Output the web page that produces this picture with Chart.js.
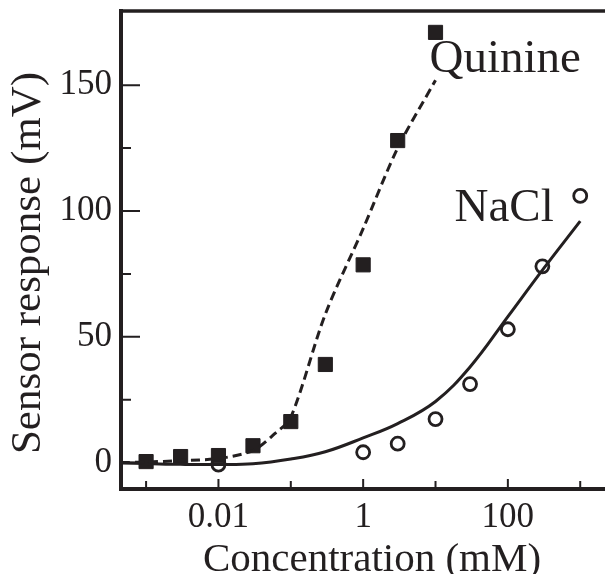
<!DOCTYPE html>
<html>
<head>
<meta charset="utf-8">
<script src="https://cdn.jsdelivr.net/npm/chart.js@4.4.1/dist/chart.umd.min.js"></script>
<style>
  html, body { margin: 0; padding: 0; background: #fff; overflow: hidden; }
  canvas { display: block; }
</style>
</head>
<body>
<canvas id="myChart" width="605" height="574"></canvas>
<script>
// measured points
const quinineConc = [0.001, 0.003, 0.01, 0.03, 0.1, 0.3, 1, 3, 10];
const quinineResp = [0.4, 2.4, 2.8, 6.7, 16.3, 39, 78.6, 128, 171];
const naclConc = [0.01, 1, 3, 10, 30, 100, 300, 1000];
const naclResp = [-0.8, 4.1, 7.5, 17.3, 31.2, 53, 78, 106];

// fitted curves
const quinineFitConc = [0.00045, 0.001, 0.003, 0.01, 0.03, 0.06, 0.1, 0.3, 1, 3, 10];
const quinineFitResp = [0, 0.2, 0.8, 1.6, 4.8, 11.5, 18, 59, 93, 125, 152];
const naclFitConc = [0.00045, 0.001, 0.003, 0.01, 0.03, 0.1, 0.3, 1, 3, 10, 30, 100, 300, 1000];
const naclFitResp = [-0.2, -0.4, -0.7, -0.8, -0.5, 1.4, 4.3, 9.8, 15.5, 24.3, 38, 58, 76.5, 96];

const xTicks = [0.001, 0.01, 0.1, 1, 10, 100, 1000];
const xTickLabels = ["", "0.01", "", "1", "", "100", ""];
const yTicks = [0, 25, 50, 75, 100, 125, 150];
const yTickLabels = ["0", "", "50", "", "100", "", "150"];

const seriesNames = ["Quinine", "NaCl"];
const xTitle = "Concentration (mM)";
const yTitle = "Sensor response (mV)";

const ink = "#231f20";
const serif = "'Liberation Serif', 'DejaVu Serif', serif";
// where the series names sit (data units, left edge / baseline)
const nameSpots = [{ x: 8.26, y: 155.4 }, { x: 18.3, y: 96.2 }];

function pts(xs, ys) {
  return xs.map((v, i) => ({ x: v, y: ys[i] }));
}

const frameAndTicks = {
  id: "frameAndTicks",
  afterDatasetsDraw(chart) {
    const { ctx, chartArea: a, scales: { x, y } } = chart;
    ctx.save();
    ctx.strokeStyle = ink;
    ctx.lineCap = "butt";
    ctx.lineWidth = 2;
    ctx.beginPath();
    xTicks.forEach((v, i) => {
      const px = x.getPixelForValue(v);
      const len = xTickLabels[i] ? 10 : 8;
      ctx.moveTo(px, a.bottom);
      ctx.lineTo(px, a.bottom - len);
    });
    yTicks.forEach((v, i) => {
      const py = y.getPixelForValue(v);
      const len = yTickLabels[i] ? 19 : 10;
      ctx.moveTo(a.left, py);
      ctx.lineTo(a.left + len, py);
    });
    ctx.stroke();

    // top frame line
    ctx.lineWidth = 3.5;
    ctx.beginPath();
    ctx.moveTo(a.left - 2, a.top);
    ctx.lineTo(a.right, a.top);
    ctx.stroke();

    ctx.fillStyle = ink;
    ctx.textBaseline = "alphabetic";

    // series names
    ctx.font = "47px " + serif;
    ctx.textAlign = "left";
    seriesNames.forEach((s, i) => {
      ctx.fillText(s, x.getPixelForValue(nameSpots[i].x), y.getPixelForValue(nameSpots[i].y));
    });

    // axis titles
    ctx.textAlign = "center";
    ctx.font = "41px " + serif;
    ctx.fillText(xTitle, (a.left + a.right) / 2 + 9, chart.height - 3);
    ctx.save();
    ctx.translate(40, (a.top + a.bottom) / 2 + 13);
    ctx.rotate(-Math.PI / 2);
    ctx.font = "43px " + serif;
    ctx.fillText(yTitle, 0, 0);
    ctx.restore();

    ctx.restore();
  }
};

new Chart("myChart", {
  type: "scatter",
  data: {
    datasets: [
      {
        label: "Quinine fit",
        data: pts(quinineFitConc, quinineFitResp),
        showLine: true,
        borderColor: ink,
        borderWidth: 3,
        borderDash: [9, 5],
        pointRadius: 0,
        tension: 0.3
      },
      {
        label: "NaCl fit",
        data: pts(naclFitConc, naclFitResp),
        showLine: true,
        borderColor: ink,
        borderWidth: 3,
        pointRadius: 0,
        tension: 0.4
      },
      {
        label: "Quinine",
        data: pts(quinineConc, quinineResp),
        pointStyle: "rect",
        pointRadius: 10,
        backgroundColor: ink,
        borderColor: ink,
        borderWidth: 1
      },
      {
        label: "NaCl",
        data: pts(naclConc, naclResp),
        pointStyle: "circle",
        pointRadius: 6.5,
        backgroundColor: "#fff",
        borderColor: ink,
        borderWidth: 2.8
      }
    ]
  },
  options: {
    responsive: false,
    animation: false,
    layout: { autoPadding: false, padding: { top: 11, right: 0, left: 0, bottom: 0 } },
    plugins: {
      legend: { display: false },
      tooltip: { enabled: false }
    },
    scales: {
      x: {
        type: "logarithmic",
        min: 0.00045,
        max: 2200,
        afterBuildTicks: s => { s.ticks = xTicks.map(v => ({ value: v })); },
        afterFit: s => { s.height = 85; s.paddingLeft = 0; s.paddingRight = 0; },
        grid: { drawOnChartArea: false, drawTicks: false },
        border: { display: true, color: ink, width: 4 },
        ticks: {
          autoSkip: false,
          maxRotation: 0,
          padding: 8,
          color: ink,
          font: { family: serif, size: 35, weight: "normal" },
          callback: (v, i) => xTickLabels[i]
        }
      },
      y: {
        min: -10.5,
        max: 179.5,
        afterBuildTicks: s => { s.ticks = yTicks.map(v => ({ value: v })); },
        afterFit: s => { s.width = 121; s.paddingTop = 0; s.paddingBottom = 0; },
        grid: { drawOnChartArea: false, drawTicks: false },
        border: { display: true, color: ink, width: 4 },
        ticks: {
          padding: 9,
          color: ink,
          font: { family: serif, size: 35, weight: "normal" },
          callback: (v, i) => yTickLabels[i]
        }
      }
    }
  },
  plugins: [frameAndTicks]
});
</script>
</body>
</html>
